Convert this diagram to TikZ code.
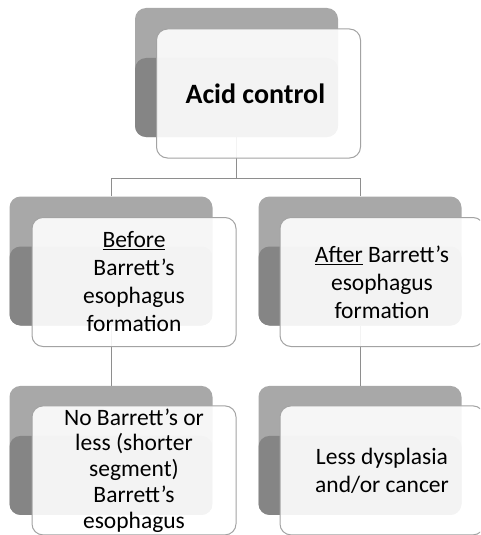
\documentclass[tikz,border=0pt]{standalone}
\usepackage{fontspec}
\setmainfont{Carlito}
\usepackage{tikz}
\usetikzlibrary{positioning}
\definecolor{backtop}{HTML}{A8A8A8}
\definecolor{backlow}{HTML}{858585}
\definecolor{boxline}{HTML}{A3A3A3}
\definecolor{linkline}{HTML}{8E8E8E}
\tikzset{
  every node/.style={
    font=\fontsize{23.5}{28}\selectfont
  },
  backbox/.style={
    shape=rectangle,
    rounded corners=11pt,
    minimum width=203pt,
    minimum height=129pt,
    fill=backtop,
    path picture={
      \fill[backlow] ([yshift=-50pt]path picture bounding box.north west)
        rectangle (path picture bounding box.south east);
    }
  },
  frontbox/.style={
    shape=rectangle,
    rounded corners=11pt,
    minimum width=204pt,
    minimum height=129pt,
    inner sep=0pt,
    draw=boxline,
    line width=1pt,
    fill=white,
    fill opacity=0.9,
    text opacity=1,
    text=black,
    align=center
  },
  link/.style={
    draw=linkline,
    line width=0.9pt
  }
}
\begin{document}
\begin{tikzpicture}[x=1pt,y=-1pt]
    \clip (0,0) rectangle (480,535);
    % boxes behind
    \node [backbox] (acid back) at (236.5,72.5) {};
    \node [backbox] (before back) at (111,261) {};
    \node [backbox] (after back) at (360,261) {};
    \node [backbox, below=60pt of before back] (nobe back) {};
    \node [backbox, below=60pt of after back] (less back) {};
    % connectors
    \draw [link] (acid back.south) -- ++(0,41) -| (before back.north);
    \draw [link] (acid back.south) -- ++(0,41) -| (after back.north);
    \draw [link] (before back.south) -- (nobe back.north);
    \draw [link] (after back.south) -- (less back.north);
    % boxes in front
    \node [frontbox, font=\bfseries\fontsize{28}{32}\selectfont] (acid)
      at ([shift={(22,21)}]acid back.center) { Acid control };
    \node [frontbox] (before) at ([shift={(23,21)}]before back.center) {
      \underline{Before}\\Barrett’s\\esophagus\\formation };
    \node [frontbox] (after) at ([shift={(22,21)}]after back.center) {
      \underline{After} Barrett’s\\esophagus\\formation };
    \node [frontbox, font=\fontsize{23.5}{25.7}\selectfont] (nobe)
      at ([shift={(23,20)}]nobe back.center) {
      No Barrett’s or\\less (shorter\\segment)\\Barrett’s\\esophagus };
    \node [frontbox] (less) at ([shift={(22,20)}]less back.center) {
      Less dysplasia\\and/or cancer };
\end{tikzpicture}
\end{document}
